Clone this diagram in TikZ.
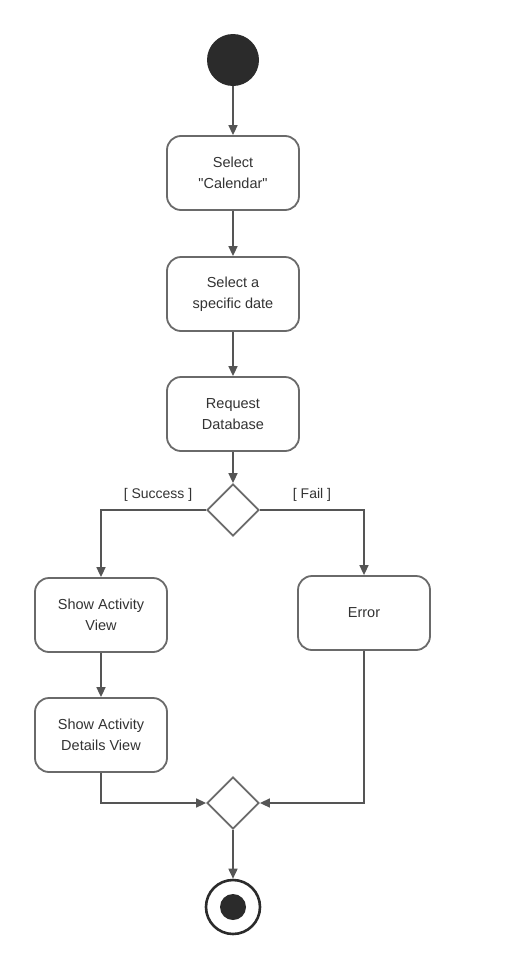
\documentclass[tikz,border=0pt]{standalone}
\usepackage{fontspec}
\setmainfont{Liberation Sans}[Ligatures=TeXOff]
\usetikzlibrary{arrows.meta,shapes.geometric}
\definecolor{edge}{HTML}{555555}
\definecolor{boxline}{HTML}{6A6A6A}
\definecolor{txt}{HTML}{333333}
\definecolor{dot}{HTML}{2B2B2B}
\begin{document}
\begin{tikzpicture}[x=1pt,y=-1pt,
  act/.style={draw=boxline,line width=1.8pt,rounded corners=14pt,minimum width=132pt,minimum height=74pt,
    align=center,text=txt,font=\fontsize{14.5}{21}\selectfont,inner sep=0pt,fill=white},
  dec/.style={draw=boxline,line width=1.8pt,diamond,minimum width=52pt,minimum height=52pt,inner sep=0pt,fill=white},
  flow/.style={draw=edge,line width=1.6pt,-{Triangle[length=10pt,width=9pt]}},
  guard/.style={text=txt,font=\fontsize{14}{16}\selectfont}]
\useasboundingbox (0,0) rectangle (508,972);
\node[circle,fill=dot,minimum size=52pt,inner sep=0pt] (start) at (233,60) {};
\node[act] (b1) at (233,173) {Select\\"Calendar"};
\node[act] (b2) at (233,294) {Select a\\specific date};
\node[act] (b3) at (233,414) {Request\\Database};
\node[dec] (d1) at (233,510) {};
\node[act] (b4) at (101,615) {Show Activity\\View};
\node[act] (b5) at (101,735) {Show Activity\\Details View};
\node[act] (err) at (364,613) {Error};
\node[dec] (d2) at (233,803) {};
\node[circle,draw=dot,line width=2.6pt,minimum size=54pt,inner sep=0pt] (end) at (233,907) {};
\node[circle,fill=dot,minimum size=26pt,inner sep=0pt] (endin) at (end.center) {};
\node[guard] (ls) at (158,495) {[ Success ]};
\node[guard] (lf) at (312,495) {[ Fail ]};
\draw[flow] (start) -- (b1);
\draw[flow] (b1) -- (b2);
\draw[flow] (b2) -- (b3);
\draw[flow] (b3) -- (d1);
\draw[flow] (d1.west) -| (b4.north);
\draw[flow] (d1.east) -| (err.north);
\draw[flow] (b4) -- (b5);
\draw[flow] (b5.south) |- (d2.west);
\draw[flow] (err.south) |- (d2.east);
\draw[flow] (d2) -- (end);
\end{tikzpicture}
\end{document}
